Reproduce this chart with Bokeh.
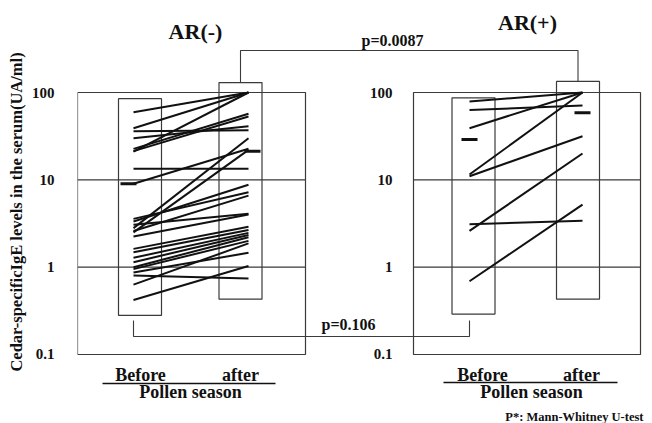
import math
from bokeh.plotting import figure
from bokeh.models import Range1d, FixedTicker, CustomJSTickFormatter, ColumnDataSource
from bokeh.embed import file_html
from bokeh.resources import INLINE
from bokeh.core.properties import value

# ---------------- data ----------------
group_names = ["AR(-)", "AR(+)"]
period_labels = ["Before", "after"]
xaxis_title = "Pollen season"
yaxis_title = "Cedar-specificIgE levels in the serum(UA/ml)"
y_ticks = [0.1, 1, 10, 100]
y_tick_labels = ["0.1", "1", "10", "100"]

neg_before = [59.5, 39.0, 21.0, 36.0, 30.0, 22.6, 21.3, 13.4, 9.0, 2.8, 2.5,
              3.57, 3.33, 3.05, 2.6, 2.24, 1.62, 1.48, 1.28, 1.14, 1.0, 0.95,
              0.87, 0.80, 0.63, 0.42]
neg_after = [100, 100, 100, 37.0, 41.0, 57.0, 53.0, 13.4, 22.7, 30.0, 22.0,
             7.2, 8.8, 4.1, 6.6, 4.0, 2.9, 2.67, 2.47, 2.34, 2.2, 2.0,
             1.46, 0.74, 1.87, 1.03]
pos_before = [79.0, 63.0, 39.0, 11.5, 11.0, 2.6, 3.1, 0.69]
pos_after = [100, 71.0, 100, 100, 31.6, 20.0, 3.4, 5.2]

mean_before = [9.0, 29.0]
mean_after = [21.3, 58.6]
range_before_low = [0.28, 0.29]
range_before_high = [85.0, 87.0]
range_after_low = [0.43, 0.43]
range_after_high = [130.0, 134.0]

p_between_after = "p=0.0087"
p_between_before = "p=0.106"
note = "P*: Mann-Whitney U-test"

# ---------------- layout helpers (pixel layout -> data space) ----------------
DEC = 87.33           # pixels per decade
Y100 = 92             # pixel row of the value 100
X0, XSTEP = 133, 115  # pixel column of first "before" line, px per x unit
L = 77                # frame left


def yv(px):
    return 10 ** (2 - (px - Y100) / DEC)


def xv(px):
    return 1 + (px - X0) / XSTEP


XB = [xv(133), xv(469)]         # before line positions
XA = [xv(248), xv(582)]         # after line positions
FRAME = [(xv(77), xv(305)), (xv(413), xv(640))]
BOX_B = [xv(139.5), xv(473)]
BOX_A = [xv(240), xv(577.5)]
BOX_W = 43 / XSTEP

INK = "#111111"
FRAME_C = "#3a3a3a"
FONT = value("Liberation Serif")

p = figure(width=652, height=423, y_axis_type="log",
           x_range=Range1d(xv(L), xv(652)), y_range=Range1d(yv(423), yv(0)),
           output_backend="svg", toolbar_location=None,
           min_border=0, min_border_left=L)
p.xaxis.visible = False
p.xgrid.visible = False
p.ygrid.visible = False
p.outline_line_color = None

ax = p.yaxis[0]
ax.ticker = FixedTicker(ticks=y_ticks)
ax.formatter = CustomJSTickFormatter(code="return tick.toString()")
ax.major_tick_line_color = None
ax.minor_tick_line_color = None
ax.axis_line_color = None
ax.major_label_text_font = "Liberation Serif"
ax.major_label_text_font_style = "bold"
ax.major_label_text_font_size = "15px"
ax.major_label_text_color = INK
ax.major_label_standoff = 17
ax.axis_label = yaxis_title
ax.axis_label_text_font = "Liberation Serif"
ax.axis_label_text_font_style = "bold"
ax.axis_label_text_font_size = "16.5px"
ax.axis_label_text_color = INK
ax.axis_label_standoff = 3

# panel frames with gridlines at 1 and 10
for (fx0, fx1) in FRAME:
    p.quad(left=[fx0], right=[fx1], bottom=[y_ticks[0]], top=[y_ticks[-1]],
           fill_color=None, line_color=FRAME_C, line_width=1.2)
    p.segment(x0=[fx0] * 2, x1=[fx1] * 2, y0=y_ticks[1:3], y1=y_ticks[1:3],
              line_color=FRAME_C, line_width=1.2)

# range boxes
p.quad(left=[b - BOX_W / 2 for b in BOX_B], right=[b + BOX_W / 2 for b in BOX_B],
       bottom=range_before_low, top=range_before_high,
       fill_color=None, line_color=FRAME_C, line_width=1.2)
p.quad(left=[a - BOX_W / 2 for a in BOX_A], right=[a + BOX_W / 2 for a in BOX_A],
       bottom=range_after_low, top=range_after_high,
       fill_color=None, line_color=FRAME_C, line_width=1.2)

# paired before/after lines
for i, (bef, aft) in enumerate([(neg_before, neg_after), (pos_before, pos_after)]):
    src = ColumnDataSource(dict(x0=[XB[i]] * len(bef), x1=[XA[i]] * len(aft),
                                y0=bef, y1=aft))
    p.segment(x0="x0", y0="y0", x1="x1", y1="y1", source=src,
              line_color=INK, line_width=2)

# mean dashes
DW = 8 / XSTEP
DX = [XB[0] - 5 / XSTEP, XB[1], XA[0] + 4 / XSTEP, XA[1]]
p.segment(x0=[d - DW for d in DX], x1=[d + DW for d in DX],
          y0=mean_before + mean_after, y1=mean_before + mean_after,
          line_color=INK, line_width=3)

# significance brackets
p.line(x=[BOX_A[0], BOX_A[0], BOX_A[1], BOX_A[1]],
       y=[range_after_high[0], yv(50), yv(50), range_after_high[1]],
       line_color=FRAME_C, line_width=1.1)
p.line(x=[XB[0], XB[0], XB[1], XB[1]],
       y=[yv(320), yv(336), yv(336), yv(320)],
       line_color=FRAME_C, line_width=1.1)


def txt(xs, ys, texts, size, align="center"):
    p.text(x=xs, y=ys, text=texts, text_font=FONT, text_font_style="bold",
           text_font_size=size, text_align=align, text_baseline="middle",
           text_color=INK)


txt([xv(195), xv(527)], [yv(31), yv(22)], group_names, "22px")
txt([xv(392)], [yv(40)], [p_between_after], "16px")
txt([xv(348)], [yv(324)], [p_between_before], "16px")

# right panel tick labels (the right panel has its own scale labels)
txt([xv(392)] * len(y_ticks), y_ticks, y_tick_labels, "15px", align="right")

# x labels
txt([xv(140), xv(240)], [yv(374)] * 2, period_labels, "18px")
txt([xv(482), xv(581)], [yv(374)] * 2, period_labels, "18px")
p.segment(x0=[xv(102), xv(443)], x1=[xv(275), xv(617)], y0=[yv(383), yv(382)],
          y1=[yv(383), yv(382)], line_color=INK, line_width=1.6)
txt([xv(190), xv(531)], [yv(391)] * 2, [xaxis_title] * 2, "18px")
txt([xv(643)], [yv(416)], [note], "12.5px", align="right")

open("out.html", "w").write(file_html(p, INLINE))
